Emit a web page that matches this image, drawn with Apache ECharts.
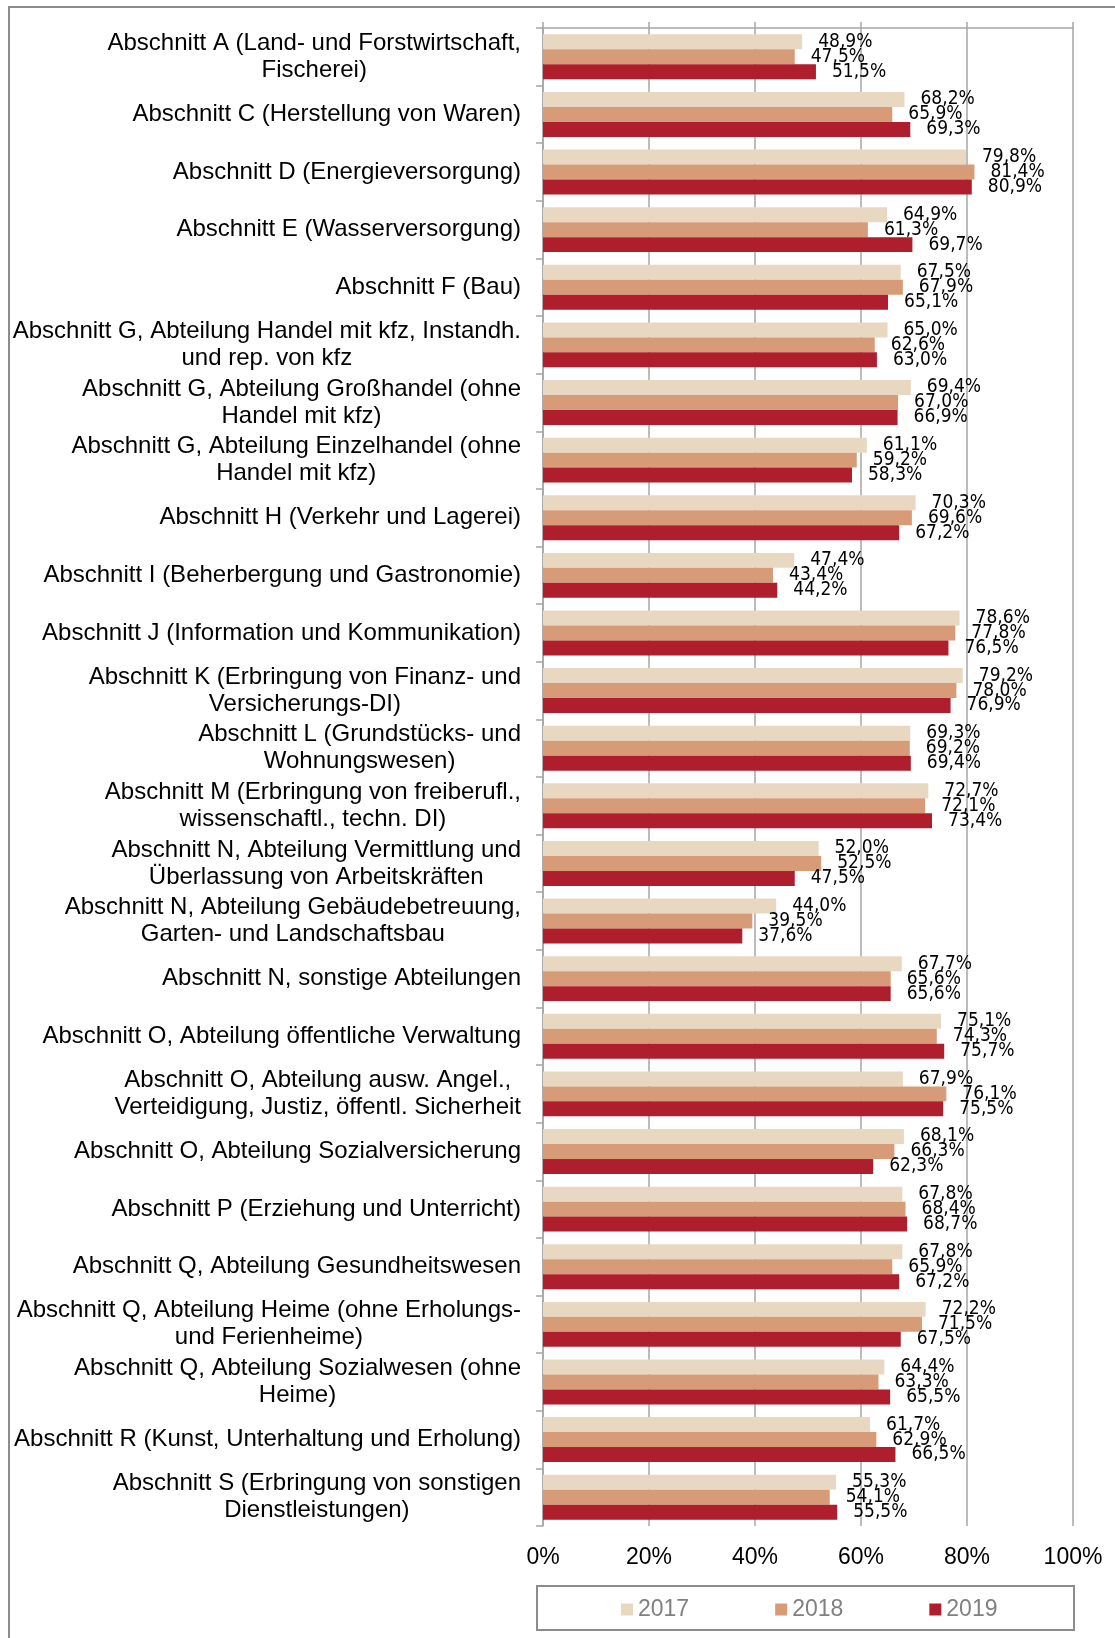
<!DOCTYPE html>
<html>
<head>
<meta charset="utf-8">
<script src="https://cdn.jsdelivr.net/npm/echarts@6/dist/echarts.min.js"></script>
<style>
html,body{margin:0;padding:0;background:#fff;}
#chart{width:1115px;height:1638px;}
</style>
</head>
<body>
<div id="chart"></div>
<script>
const categories = [
  "Abschnitt A (Land- und Forstwirtschaft,\nFischerei)",
  "Abschnitt C (Herstellung von Waren)",
  "Abschnitt D (Energieversorgung)",
  "Abschnitt E (Wasserversorgung)",
  "Abschnitt F (Bau)",
  "Abschnitt G, Abteilung Handel mit kfz, Instandh.\nund rep. von kfz",
  "Abschnitt G, Abteilung Großhandel (ohne\nHandel mit kfz)",
  "Abschnitt G, Abteilung Einzelhandel (ohne\nHandel mit kfz)",
  "Abschnitt H (Verkehr und Lagerei)",
  "Abschnitt I (Beherbergung und Gastronomie)",
  "Abschnitt J (Information und Kommunikation)",
  "Abschnitt K (Erbringung von Finanz- und\nVersicherungs-DI)",
  "Abschnitt L (Grundstücks- und\nWohnungswesen)",
  "Abschnitt M (Erbringung von freiberufl.,\nwissenschaftl., techn. DI)",
  "Abschnitt N, Abteilung Vermittlung und\nÜberlassung von Arbeitskräften",
  "Abschnitt N, Abteilung Gebäudebetreuung,\nGarten- und Landschaftsbau",
  "Abschnitt N, sonstige Abteilungen",
  "Abschnitt O, Abteilung öffentliche Verwaltung",
  "Abschnitt O, Abteilung ausw. Angel.,\nVerteidigung, Justiz, öffentl. Sicherheit",
  "Abschnitt O, Abteilung Sozialversicherung",
  "Abschnitt P (Erziehung und Unterricht)",
  "Abschnitt Q, Abteilung Gesundheitswesen",
  "Abschnitt Q, Abteilung Heime (ohne Erholungs-\nund Ferienheime)",
  "Abschnitt Q, Abteilung Sozialwesen (ohne\nHeime)",
  "Abschnitt R (Kunst, Unterhaltung und Erholung)",
  "Abschnitt S (Erbringung von sonstigen\nDienstleistungen)"
];
const seriesNames = ["2017", "2018", "2019"];
const values2017 = [48.9, 68.2, 79.8, 64.9, 67.5, 65.0, 69.4, 61.1, 70.3, 47.4, 78.6, 79.2, 69.3, 72.7, 52.0, 44.0, 67.7, 75.1, 67.9, 68.1, 67.8, 67.8, 72.2, 64.4, 61.7, 55.3];
const values2018 = [47.5, 65.9, 81.4, 61.3, 67.9, 62.6, 67.0, 59.2, 69.6, 43.4, 77.8, 78.0, 69.2, 72.1, 52.5, 39.5, 65.6, 74.3, 76.1, 66.3, 68.4, 65.9, 71.5, 63.3, 62.9, 54.1];
const values2019 = [51.5, 69.3, 80.9, 69.7, 65.1, 63.0, 66.9, 58.3, 67.2, 44.2, 76.5, 76.9, 69.4, 73.4, 47.5, 37.6, 65.6, 75.7, 75.5, 62.3, 68.7, 67.2, 67.5, 65.5, 66.5, 55.5];
const xTicks = [0, 20, 40, 60, 80, 100];
const colors = ["#E8D8C2", "#D89B77", "#AF1E2D"];

const chart = echarts.init(document.getElementById('chart'), null, {renderer: 'canvas'});
const gridColor = '#A6A6A6';
const mainFont = '"Liberation Sans", Arial, sans-serif';
const labelFont = '"Liberation Sans Narrow", "Arial Narrow", "DejaVu Sans Condensed", sans-serif';

function mkSeries(name, data, color) {
  return {
    name: name,
    type: 'bar',
    xAxisIndex: 0,
    yAxisIndex: 0,
    data: data,
    barGap: '0%',
    barCategoryGap: '22%',
    itemStyle: {color: color},
    label: {
      show: true,
      position: 'right',
      distance: 16,
      color: '#000',
      fontFamily: labelFont,
      fontSize: 19,
      formatter: p => p.value.toFixed(1).replace('.', ',') + '%'
    },
    emphasis: {disabled: true}
  };
}

chart.setOption({
  animation: false,
  textStyle: {fontFamily: mainFont},
  grid: {left: 543, right: 42, top: 28, bottom: 112, containLabel: false},
  xAxis: [
    {
      type: 'value', position: 'bottom', min: 0, max: 100, interval: 20,
      axisLine: {show: false}, axisTick: {show: false},
      splitLine: {show: true, lineStyle: {color: gridColor, width: 1.5}},
      axisLabel: {
        color: '#000', fontSize: 23, margin: 20,
        fontFamily: mainFont,
        formatter: v => xTicks.includes(v) ? v + '%' : ''
      }
    },
    {
      type: 'value', position: 'top', min: 0, max: 100, interval: 20,
      axisLine: {show: true, lineStyle: {color: gridColor, width: 1.5}},
      axisTick: {show: true, length: 6, lineStyle: {color: gridColor, width: 1.5}},
      axisLabel: {show: false},
      splitLine: {show: false}
    }
  ],
  yAxis: {
    type: 'category', inverse: true, data: categories,
    axisLine: {show: true, lineStyle: {color: gridColor, width: 1.5}},
    axisTick: {show: true, length: 7, lineStyle: {color: gridColor, width: 1.5}},
    axisLabel: {
      color: '#000', fontSize: 24, margin: 22, lineHeight: 27,
      fontFamily: mainFont,
      formatter: v => v.split('\n').map(s => '{c|' + s + '}').join('\n'),
      rich: {c: {align: 'center', fontSize: 24, lineHeight: 27, color: '#000', fontFamily: mainFont}}
    }
  },
  legend: {
    data: seriesNames,
    left: 621, top: 1598, padding: 0,
    icon: 'rect', itemWidth: 12, itemHeight: 12, itemGap: 86,
    textStyle: {color: '#808080', fontSize: 23, padding: [0, 0, 0, 0], fontFamily: mainFont},
    selectedMode: false
  },
  graphic: [
    {type: 'rect', shape: {x: 9, y: 7, width: 1300, height: 1800}, style: {fill: 'none', stroke: '#8C8C8C', lineWidth: 2}, silent: true},
    {type: 'rect', shape: {x: 537, y: 1586, width: 537, height: 44}, style: {fill: 'none', stroke: '#8C8C8C', lineWidth: 2}, silent: true}
  ],
  series: [
    mkSeries(seriesNames[0], values2017, colors[0]),
    mkSeries(seriesNames[1], values2018, colors[1]),
    mkSeries(seriesNames[2], values2019, colors[2])
  ]
});
</script>
</body>
</html>
